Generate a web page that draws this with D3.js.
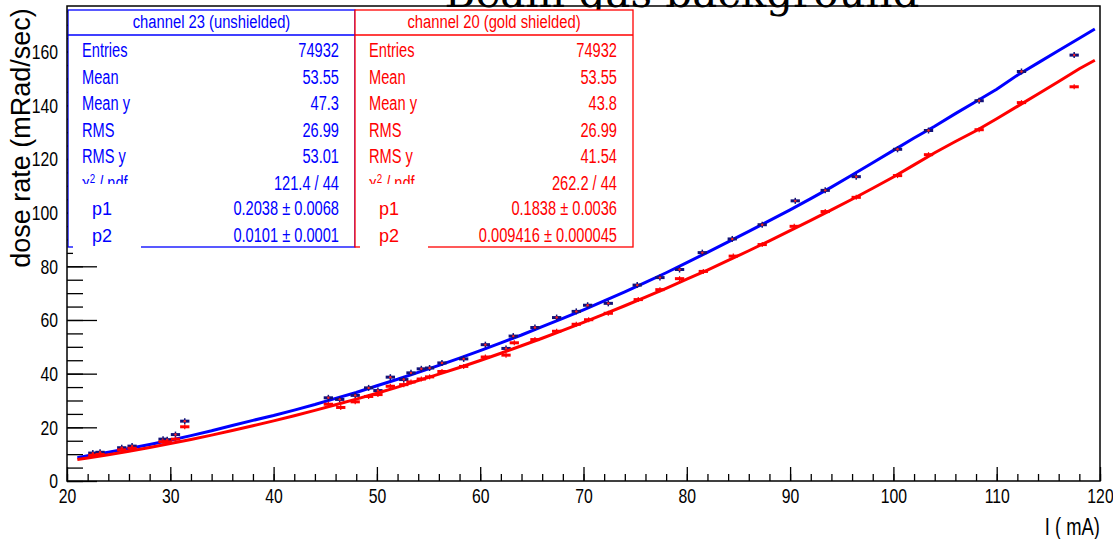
<!DOCTYPE html>
<html>
<head>
<meta charset="utf-8">
<script src="https://cdn.jsdelivr.net/npm/d3@7"></script>
<style>
  body { margin: 0; background: #fff; }
  svg { display: block; }
  text { font-family: "Liberation Sans", Arial, sans-serif; }
</style>
</head>
<body>
<svg id="chart" width="1113" height="539"></svg>
<script>
// fitted profile traces
const lineX = [21, 22, 24, 26, 28, 30, 32, 34, 36, 38, 40, 42, 44, 46, 48, 50, 52, 54, 56, 58,
  60, 62, 64, 66, 68, 70, 72, 74, 76, 78, 80, 82, 84, 86, 88, 90, 92, 94, 96, 98,
  100, 102, 104, 106, 108, 110, 112, 114, 116, 118, 119.5];
const blueLine = [8.7, 9.4, 10.7, 12.1, 13.6, 15.2, 16.9, 18.7, 20.7, 22.6, 24.4, 26.4, 28.5, 30.8, 33.0, 35.5, 37.9, 40.5, 43.1, 45.8,
  48.6, 51.5, 54.4, 57.5, 60.6, 63.8, 67.1, 70.5, 74.0, 77.6, 81.4, 85.2, 89.1, 93.0, 97.0, 101.0, 105.2, 109.5, 114.0, 118.6,
  123.2, 127.8, 132.2, 136.9, 141.4, 146.0, 151.2, 155.8, 160.4, 165.0, 168.4];
const redLine = [8.0, 8.6, 9.8, 11.1, 12.5, 14.0, 15.5, 17.1, 18.8, 20.6, 22.4, 24.3, 26.3, 28.4, 30.5, 32.7, 35.0, 37.4, 39.8, 42.3,
  44.9, 47.6, 50.4, 53.2, 56.1, 59.1, 62.2, 65.3, 68.5, 71.8, 75.2, 78.6, 82.2, 85.8, 89.5, 93.3, 97.1, 101.0, 105.0, 109.1,
  113.3, 117.8, 122.3, 126.5, 130.5, 135.0, 139.6, 144.2, 148.9, 153.6, 156.8];

// measured points
const blueX = [22.5, 23.2, 25.3, 26.3, 29.3, 29.7, 30.5, 31.4, 45.3, 46.4, 47.9, 49.2, 50.1, 51.3, 52.6, 53.3, 54.3, 55.1, 56.3, 58.4,
  60.5, 62.5, 63.2, 65.3, 67.4, 69.3, 70.4, 72.4, 75.2, 77.4, 79.3, 81.5, 84.4, 87.3, 90.5, 93.4, 96.4, 100.4, 103.4, 108.3, 112.4, 117.5];
const blueY = [10.4, 10.7, 12.4, 13.0, 15.6, 15.4, 17.3, 22.3, 31.0, 30.4, 31.9, 34.7, 33.7, 38.7, 37.8, 40.3, 41.8, 42.1, 44.0, 45.5,
  50.8, 49.4, 54.0, 57.2, 60.9, 63.2, 65.5, 66.2, 73.0, 75.8, 78.8, 85.1, 90.2, 95.5, 104.4, 108.3, 113.4, 123.6, 130.6, 141.7, 152.6, 158.7];
const redX = [22.5, 23.2, 25.3, 26.3, 29.3, 29.7, 30.5, 31.4, 45.3, 46.5, 47.9, 49.2, 50.1, 51.3, 52.6, 53.3, 54.3, 55.1, 56.3, 58.4,
  60.5, 62.5, 63.3, 65.3, 67.4, 69.3, 70.5, 72.4, 75.3, 77.4, 79.3, 81.6, 84.5, 87.3, 90.4, 93.4, 96.4, 100.4, 103.4, 108.3, 112.4, 117.5];
const redY = [9.6, 9.9, 11.6, 12.2, 14.6, 14.6, 15.6, 20.2, 28.6, 27.4, 29.5, 31.5, 32.2, 35.3, 35.9, 36.9, 38.0, 38.8, 40.8, 42.7,
  46.2, 46.9, 51.5, 52.7, 55.8, 58.4, 60.1, 62.5, 67.6, 71.3, 75.4, 78.1, 83.8, 88.1, 94.9, 100.4, 105.7, 113.8, 121.6, 130.9, 141.0, 146.9];

const statNames = ["Entries", "Mean", "Mean y", "RMS", "RMS y"];
const blueStats = ["74932", "53.55", "47.3", "26.99", "53.01", "121.4 / 44", "0.2038 \u00b1 0.0068", "0.0101 \u00b1 0.0001"];
const redStats = ["74932", "53.55", "43.8", "26.99", "41.54", "262.2 / 44", "0.1838 \u00b1 0.0036", "0.009416 \u00b1 0.000045"];

const svg = d3.select("#chart");
const x = d3.scaleLinear().domain([20, 120]).range([67, 1100]);
const y = d3.scaleLinear().domain([0, 177]).range([481, 6]);

// squeeze text horizontally (condensed helvetica look)
function condense(sel, k) {
  sel.each(function() {
    const w = this.getComputedTextLength();
    d3.select(this).attr("textLength", w * k).attr("lengthAdjust", "spacingAndGlyphs");
  });
}

// title (cut by the top of the canvas)
svg.append("text")
  .attr("x", 682).attr("y", 7)
  .attr("text-anchor", "middle")
  .style("font-family", "DejaVu Serif, serif")
  .style("font-size", "42px")
  .text("Beam gas background");

// axes
const xMajor = d3.axisBottom(x).tickValues(d3.range(20, 121, 10)).tickSizeInner(-14).tickSizeOuter(0).tickPadding(7);
const xMinor = d3.axisBottom(x).tickValues(d3.range(20, 121, 2)).tickSizeInner(-7).tickSizeOuter(0).tickFormat("");
const yMajor = d3.axisLeft(y).tickValues(d3.range(0, 161, 20)).tickSizeInner(-30).tickSizeOuter(0).tickPadding(9);
const yMinor = d3.axisLeft(y).tickValues(d3.range(0, 176, 5)).tickSizeInner(-16).tickSizeOuter(0).tickFormat("");

function styleAxis(g) {
  g.select(".domain").remove();
  g.selectAll("line").attr("stroke", "#000").attr("stroke-width", 1.3);
  g.selectAll("text").style("font-family", "Liberation Sans, Arial, sans-serif")
    .style("font-size", "21px").attr("fill", "#000").call(condense, 0.75);
}
svg.append("g").attr("transform", "translate(0,481)").call(xMinor).call(styleAxis);
svg.append("g").attr("transform", "translate(0,481)").call(xMajor).call(styleAxis);
svg.append("g").attr("transform", "translate(67,0)").call(yMinor).call(styleAxis);
svg.append("g").attr("transform", "translate(67,0)").call(yMajor).call(styleAxis);

// axis titles
svg.append("text")
  .attr("transform", "translate(30,138) rotate(-90)")
  .attr("text-anchor", "middle")
  .style("font-size", "27px")
  .text("dose rate (mRad/sec)");
svg.append("text")
  .attr("x", 1100).attr("y", 535)
  .attr("text-anchor", "end")
  .style("font-size", "23px")
  .text("I ( mA)")
  .call(condense, 0.8);

// traces
const line = d3.line().x((d, i) => x(lineX[i])).y(d => y(d));
svg.append("path").attr("d", line(blueLine))
  .attr("fill", "none").attr("stroke", "#0000ff").attr("stroke-width", 3);

const blueG = svg.append("g");
blueX.forEach((v, i) => {
  blueG.append("line").attr("x1", x(v - 0.45)).attr("x2", x(v + 0.45))
    .attr("y1", y(blueY[i])).attr("y2", y(blueY[i]))
    .attr("stroke", "#12127a").attr("stroke-width", 3);
  blueG.append("line").attr("x1", x(v)).attr("x2", x(v))
    .attr("y1", y(blueY[i]) - 3).attr("y2", y(blueY[i]) + 3)
    .attr("stroke", "#12127a").attr("stroke-width", 1.5);
  blueG.append("circle").attr("cx", x(v)).attr("cy", y(blueY[i])).attr("r", 1.2).attr("fill", "#ff2020");
});

svg.append("path").attr("d", line(redLine))
  .attr("fill", "none").attr("stroke", "#ff0000").attr("stroke-width", 3);

const redG = svg.append("g");
redX.forEach((v, i) => {
  redG.append("line").attr("x1", x(v - 0.45)).attr("x2", x(v + 0.45))
    .attr("y1", y(redY[i])).attr("y2", y(redY[i]))
    .attr("stroke", "#ff0000").attr("stroke-width", 3);
  redG.append("line").attr("x1", x(v)).attr("x2", x(v))
    .attr("y1", y(redY[i]) - 2.5).attr("y2", y(redY[i]) + 2.5)
    .attr("stroke", "#ff0000").attr("stroke-width", 1.2);
});

// stat boxes
function statBox(left, right, color, title, values) {
  const g = svg.append("g");
  g.append("rect").attr("x", left).attr("y", 10).attr("width", right - left).attr("height", 237)
    .attr("fill", "#fff").attr("stroke", color).attr("stroke-width", 1.3);
  g.append("line").attr("x1", left).attr("x2", right).attr("y1", 35).attr("y2", 35)
    .attr("stroke", color).attr("stroke-width", 1.3);
  g.append("text").attr("x", (left + right) / 2).attr("y", 28)
    .attr("text-anchor", "middle").attr("fill", color).style("font-size", "18px").text(title)
    .call(condense, 0.82);
  const base = [57, 83.5, 110, 136.5, 163, 189.5, 215, 242];
  statNames.forEach((n, i) => {
    g.append("text").attr("x", left + 14).attr("y", base[i])
      .attr("fill", color).style("font-size", "19.5px").text(n).call(condense, 0.75);
  });
  const chi = g.append("text").attr("x", left + 14).attr("y", base[5])
    .attr("fill", color).style("font-size", "19.5px");
  chi.append("tspan").text("\u03c7");
  chi.append("tspan").attr("dy", -7).style("font-size", "13px").text("2");
  chi.append("tspan").attr("dy", 7).text(" / ndf");
  chi.call(condense, 0.75);
  values.forEach((v, i) => {
    g.append("text").attr("x", right - 16).attr("y", base[i])
      .attr("text-anchor", "end").attr("fill", color).style("font-size", "19.5px").text(v)
      .call(condense, 0.75);
  });
  // parameter pave laid over the lower rows
  g.append("rect").attr("x", left + 5).attr("y", 184).attr("width", 68).attr("height", 72).attr("fill", "#fff");
  ["p1", "p2"].forEach((p, i) => {
    g.append("text").attr("x", left + 24).attr("y", base[6 + i])
      .style("font-size", "18px").attr("fill", color).text(p);
  });
}
statBox(68, 355, "#0000ff", "channel 23 (unshielded)", blueStats);
statBox(355, 633, "#ff0000", "channel 20 (gold shielded)", redStats);

// frame
svg.append("rect").attr("x", 67).attr("y", 6).attr("width", 1033).attr("height", 475)
  .attr("fill", "none").attr("stroke", "#000").attr("stroke-width", 1.5);
</script>
</body>
</html>
